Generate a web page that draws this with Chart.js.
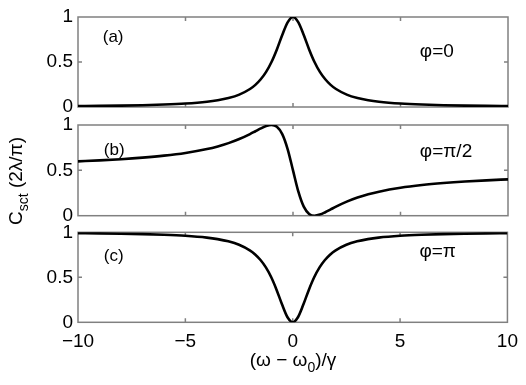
<!DOCTYPE html>
<html>
<head>
<meta charset="utf-8">
<script src="https://cdn.jsdelivr.net/npm/chart.js@4/dist/chart.umd.min.js"></script>
<style>
  html, body { margin: 0; padding: 0; background: #fff; }
  #wrap { position: relative; width: 526px; height: 385px; overflow: hidden; font-family: "Liberation Sans", Arial, sans-serif; }
  canvas { position: absolute; left: 0; top: 0; }
  .lbl { position: absolute; font-size: 19px; color: #000; white-space: nowrap; }
  .lbl sub { font-size: 14px; vertical-align: -6px; }
</style>
</head>
<body>
<div id="wrap">
  <canvas id="pa" width="526" height="385"></canvas>
  <canvas id="pb" width="526" height="385"></canvas>
  <canvas id="pc" width="526" height="385"></canvas>
  <div class="lbl" id="xlab" style="left:293px; top:362px; transform: translate(-50%,-50%);">(ω − ω<sub>0</sub>)/γ</div>
  <div class="lbl" id="ylab" style="left:18px; top:181px; transform: translate(-50%,-50%) rotate(-90deg);">C<sub>sct</sub> (2λ/π)</div>
</div>
<script>
// detuning (omega - omega0)/gamma
const xValues = [-10,-9,-8,-7,-6,-5,-4,-3.5,-3,-2.5,-2,-1.75,-1.5,-1.25,-1,-0.75,-0.5,-0.25,0,0.25,0.5,0.75,1,1.25,1.5,1.75,2,2.5,3,3.5,4,5,6,7,8,9,10];
// panel (a) phi = 0
const seriesA = [0.0099,0.0122,0.0154,0.02,0.027,0.0385,0.0588,0.0755,0.1,0.138,0.2,0.246,0.308,0.39,0.5,0.64,0.8,0.941,1,0.941,0.8,0.64,0.5,0.39,0.308,0.246,0.2,0.138,0.1,0.0755,0.0588,0.0385,0.027,0.02,0.0154,0.0122,0.0099];
// panel (b) phi = pi/2
const seriesB = [0.599,0.610,0.623,0.640,0.662,0.692,0.735,0.764,0.8,0.845,0.9,0.931,0.962,0.988,1.0,0.98,0.9,0.735,0.5,0.265,0.1,0.02,0,0.012,0.038,0.069,0.1,0.155,0.2,0.236,0.265,0.308,0.338,0.36,0.377,0.390,0.401];
// panel (c) phi = pi
const seriesC = [0.9901,0.9878,0.9846,0.98,0.973,0.9615,0.9412,0.9245,0.9,0.862,0.8,0.754,0.692,0.61,0.5,0.36,0.2,0.059,0,0.059,0.2,0.36,0.5,0.61,0.692,0.754,0.8,0.862,0.9,0.9245,0.9412,0.9615,0.973,0.98,0.9846,0.9878,0.9901];
const xTicks = [-10,-5,0,5,10];
const yTicks = [0,0.5,1];
const panelLabels = ['(a)','(b)','(c)'];
const phiLabels = ['φ=0','φ=π/2','φ=π'];

const FONT = '"Liberation Sans", Arial, sans-serif';

function framePlugin(idx) {
  return {
    id: 'frame' + idx,
    beforeDatasetsDraw(chart) {
      const {ctx, chartArea: a, scales: {x, y}} = chart;
      ctx.save();
      ctx.strokeStyle = '#808080';
      ctx.lineWidth = 1.5;
      ctx.strokeRect(a.left, a.top, a.right - a.left, a.bottom - a.top);
      ctx.beginPath();
      xTicks.slice(1, -1).forEach(v => {
        const px = x.getPixelForValue(v);
        ctx.moveTo(px, a.bottom); ctx.lineTo(px, a.bottom - 4);
        ctx.moveTo(px, a.top); ctx.lineTo(px, a.top + 4);
      });
      yTicks.slice(1, -1).forEach(v => {
        const py = y.getPixelForValue(v);
        ctx.moveTo(a.left, py); ctx.lineTo(a.left + 4, py);
        ctx.moveTo(a.right, py); ctx.lineTo(a.right - 4, py);
      });
      ctx.stroke();
      ctx.restore();
    },
    afterDraw(chart) {
      const {ctx, scales: {x, y}} = chart;
      const pos = [
        [[-8.85, 0.77], [5.9, 0.61]],
        [[-8.8, 0.72], [5.9, 0.70]],
        [[-8.8, 0.73], [5.9, 0.78]]
      ][idx];
      ctx.save();
      ctx.fillStyle = '#000';
      ctx.textBaseline = 'middle';
      ctx.textAlign = 'left';
      ctx.font = '17px ' + FONT;
      ctx.fillText(panelLabels[idx], x.getPixelForValue(pos[0][0]), y.getPixelForValue(pos[0][1]));
      ctx.font = '19px ' + FONT;
      ctx.fillText(phiLabels[idx], x.getPixelForValue(pos[1][0]), y.getPixelForValue(pos[1][1]));
      ctx.restore();
    }
  };
}

function makePanel(id, series, idx, padTop, padBottom, showX) {
  const data = xValues.map((xv, i) => ({x: xv, y: series[i]}));
  new Chart(document.getElementById(id), {
    type: 'line',
    data: { datasets: [{
      data: data,
      borderColor: '#000',
      borderWidth: 2.6,
      pointRadius: 0,
      fill: false,
      cubicInterpolationMode: 'monotone'
    }]},
    options: {
      responsive: false,
      animation: false,
      events: [],
      layout: { padding: { top: padTop, bottom: padBottom, left: 0, right: 18 } },
      plugins: { legend: { display: false }, tooltip: { enabled: false } },
      scales: {
        x: {
          type: 'linear', min: -10, max: 10,
          display: showX,
          grid: { display: false, drawTicks: false },
          border: { display: false },
          afterBuildTicks(s) { s.ticks = xTicks.map(v => ({value: v})); },
          afterFit(s) { if (showX) s.height = 30; },
          ticks: {
            autoSkip: false, maxRotation: 0, padding: 8,
            color: '#000', font: { size: 19, family: FONT },
            callback: v => (v < 0 ? '\u2212' + Math.abs(v) : String(v))
          }
        },
        y: {
          type: 'linear', min: 0, max: 1,
          grid: { display: false, drawTicks: false },
          border: { display: false },
          afterBuildTicks(s) { s.ticks = yTicks.map(v => ({value: v})); },
          afterFit(s) { s.width = 78; },
          ticks: {
            padding: 5, color: '#000', font: { size: 19, family: FONT },
            callback: v => String(v)
          }
        }
      }
    },
    plugins: [framePlugin(idx)]
  });
}

makePanel('pa', seriesA, 0, 17, 385 - 107, false);
makePanel('pb', seriesB, 1, 125, 385 - 215.7, false);
makePanel('pc', seriesC, 2, 232.3, 385 - 322.3 - 30, true);
</script>
</body>
</html>
